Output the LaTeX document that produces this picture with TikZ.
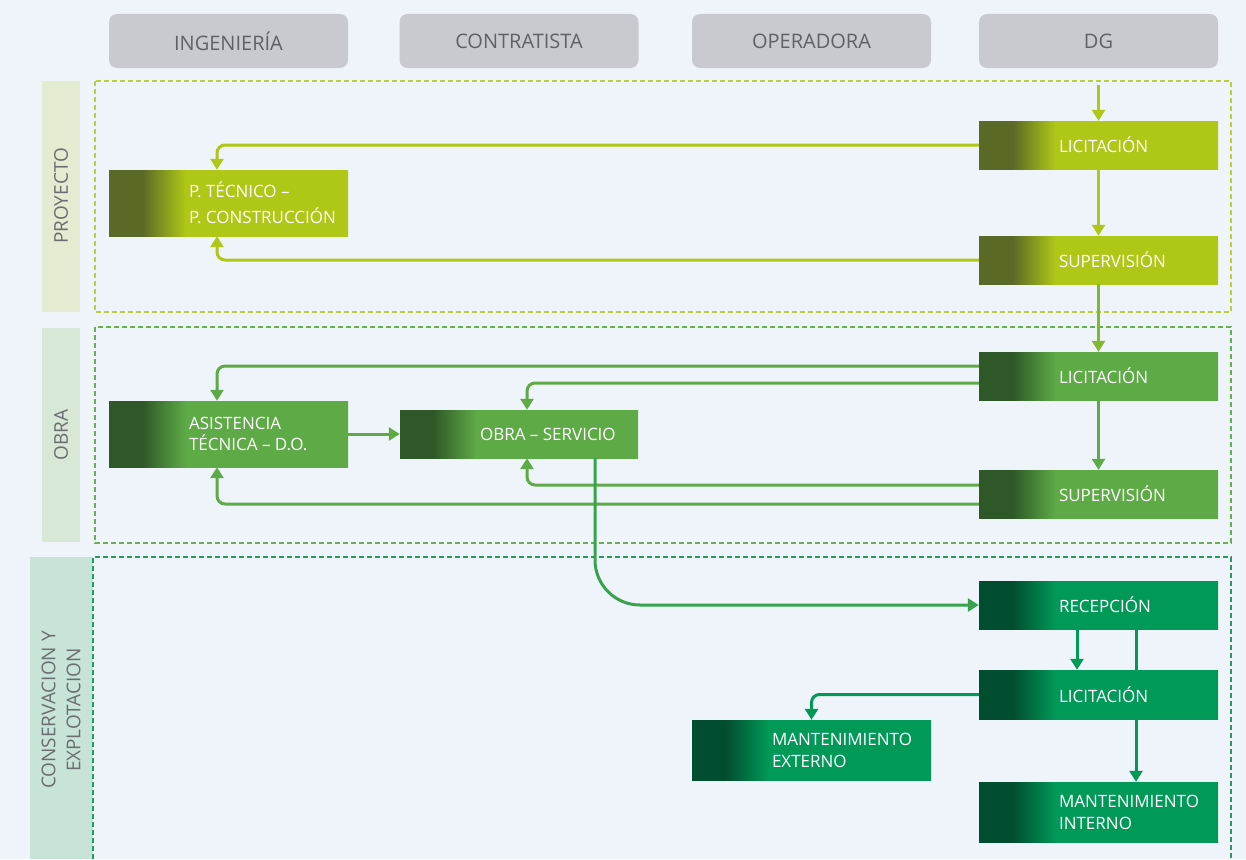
\documentclass[tikz,border=0pt]{standalone}
\usepackage{fontspec}
\setmainfont{Open Sans}
\usetikzlibrary{arrows.meta}
\definecolor{bg}{HTML}{EFF4FB}
\definecolor{hdrfill}{HTML}{C9CACF}
\definecolor{hdrtxt}{HTML}{5E6267}
\definecolor{bandtxt}{HTML}{6A6E70}
\definecolor{bandP}{HTML}{E3EBD1}
\definecolor{bandO}{HTML}{D8E8D6}
\definecolor{bandC}{HTML}{C8E4D8}
\definecolor{yg}{HTML}{AFC716}
\definecolor{ygdark}{HTML}{5A6A26}
\definecolor{gr}{HTML}{5EAA46}
\definecolor{grdark}{HTML}{2F5828}
\definecolor{dg}{HTML}{009957}
\definecolor{dgdark}{HTML}{014D2F}
\definecolor{frP}{HTML}{B9CF3E}
\definecolor{frO}{HTML}{66B050}
\definecolor{frC}{HTML}{1F9E5F}
\pgfdeclarehorizontalshading{ygsh}{100bp}{color(0bp)=(ygdark); color(32bp)=(ygdark); color(41bp)=(yg); color(100bp)=(yg)}
\pgfdeclarehorizontalshading{grsh}{100bp}{color(0bp)=(grdark); color(32bp)=(grdark); color(41bp)=(gr); color(100bp)=(gr)}
\pgfdeclarehorizontalshading{dgsh}{100bp}{color(0bp)=(dgdark); color(32bp)=(dgdark); color(41bp)=(dg); color(100bp)=(dg)}
\tikzset{
  hdr/.style={rectangle, rounded corners=8pt, fill=hdrfill, minimum width=239pt, minimum height=54pt, inner sep=0pt, text=hdrtxt, font=\fontsize{20}{24}\selectfont},
  band/.style={rectangle, inner sep=0pt, anchor=north west},
  bandlbl/.style={rotate=90, text=bandtxt, font=\fontsize{19}{25}\selectfont, align=center, inner sep=0pt},
  box/.style={rectangle, minimum width=239pt, minimum height=48pt, inner sep=0pt},
  ygbox/.style={box, shading=ygsh},
  grbox/.style={box, shading=grsh},
  dgbox/.style={box, shading=dgsh},
  btxt/.style={anchor=west, xshift=80pt, inner sep=0pt, text=white, font=\fontsize{17}{22}\selectfont, align=left},
  frame/.style={line width=1.2pt, dash pattern=on 5pt off 3pt},
  conn/.style={line width=3pt, -{Triangle[width=13pt,length=11pt]}},
  yarr/.style={conn, draw=yg},
  garr/.style={conn, draw=gr},
  darr/.style={conn, draw=dg},
  rc/.style={rounded corners=8pt},
}
\begin{document}
\begin{tikzpicture}[x=1pt,y=-1pt]
\fill[bg] (0,0) rectangle (1246,859);
\useasboundingbox (0,0) rectangle (1246,859);

% headers
\node[hdr] (h1) at (228.5,41) {INGENIERÍA};
\node[hdr] (h2) at (519,41) {CONTRATISTA};
\node[hdr] (h3) at (811.5,41) {OPERADORA};
\node[hdr] (h4) at (1098.5,41) {DG};

% bands
\fill[bandP] (42,81) rectangle (80,312);
\fill[bandO] (42,328) rectangle (80,542);
\fill[bandC] (30,557) rectangle (93,859);
\node[bandlbl] (lp) at (61,196) {PROYECTO};
\node[bandlbl] (lo) at (61,435) {OBRA};
\node[bandlbl] (lc) at (61,710) {CONSERVACION Y\\EXPLOTACION};

% frames
\draw[frame, draw=frP] (95,81) rectangle (1231,312);
\draw[frame, draw=frO] (95,327) rectangle (1231,543);
\draw[frame, draw=frC] (93,859) -- (93,557) -- (1231,557) -- (1231,859);

% boxes PROYECTO
\node[ygbox, label={[btxt]west:LICITACIÓN}] (licP) at (1098.5,145) {};
\node[ygbox, label={[btxt]west:SUPERVISIÓN}] (supP) at (1098.5,260) {};
\node[ygbox, minimum height=66pt, label={[btxt]west:{P. TÉCNICO –\\[4pt]P. CONSTRUCCIÓN}}] (pt) at (228.5,203) {};

% boxes OBRA
\node[grbox, label={[btxt]west:LICITACIÓN}] (licO) at (1098.5,376) {};
\node[grbox, label={[btxt]west:SUPERVISIÓN}] (supO) at (1098.5,494) {};
\node[grbox, minimum height=66pt, label={[btxt]west:{ASISTENCIA\\[-1pt]TÉCNICA – D.O.}}] (asis) at (228.5,434) {};
\node[grbox, minimum width=238pt, label={[btxt]west:OBRA – SERVICIO}] (obra) at (519,434) {};

% boxes CONSERVACION
\node[dgbox, label={[btxt]west:RECEPCIÓN}] (rec) at (1098.5,605) {};
\node[dgbox, minimum height=49pt, label={[btxt]west:LICITACIÓN}] (licC) at (1098.5,694.5) {};
\node[dgbox, minimum height=60pt, label={[btxt]west:{MANTENIMIENTO\\EXTERNO}}] (mext) at (811.5,750) {};
\node[dgbox, minimum height=60pt, label={[btxt]west:{MANTENIMIENTO\\INTERNO}}] (mint) at (1098.5,812) {};

% connectors PROYECTO
\coordinate (dgin) at (1098.5,85);
\draw[yarr] (dgin) -- (licP.north);
\draw[yarr, rc] (licP.west) -| ([xshift=-11.5pt]pt.north);
\draw[yarr] (licP.south) -- (supP.north);
\draw[yarr, rc] (supP.west) -| ([xshift=-11.5pt]pt.south);
\draw[conn, draw=yg!45!gr] (supP.south) -- (licO.north);

% connectors OBRA
\draw[garr, rc] ([yshift=10pt]licO.west) -| ([xshift=-11.5pt]asis.north);
\draw[garr, rc] ([yshift=-7pt]licO.west) -| ([xshift=8pt]obra.north);
\draw[garr] (licO.south) -- (supO.north);
\draw[garr, rc] ([yshift=9pt]supO.west) -| ([xshift=8pt]obra.south);
\draw[garr, rc] ([yshift=-10pt]supO.west) -| ([xshift=-11.5pt]asis.south);
\draw[garr] (asis.east) -- (obra.west);

% connectors CONSERVACION
\draw[darr] ([xshift=-21.5pt]rec.south) -- ([xshift=-21.5pt]licC.north);
\draw[line width=3pt, draw=dg] ([xshift=37.5pt]rec.south) -- ([xshift=37.5pt]licC.north);
\draw[darr] ([xshift=37.5pt]licC.south) -- ([xshift=37.5pt]mint.north);
\draw[darr, rc] (licC.west) -| (mext.north);
\draw[conn, draw=gr!60!dg, rounded corners=45pt] ([xshift=76pt]obra.south) |- (rec.west);
\end{tikzpicture}
\end{document}
